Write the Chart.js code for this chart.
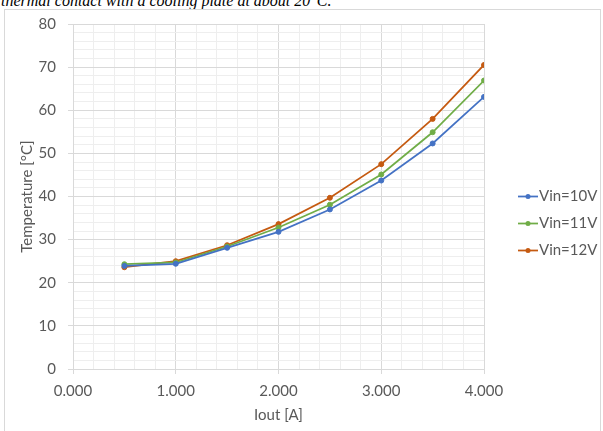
<!DOCTYPE html>
<html>
<head>
<meta charset="utf-8">
<script src="https://cdn.jsdelivr.net/npm/chart.js@4.4.1/dist/chart.umd.min.js"></script>
<style>
  html, body { margin: 0; padding: 0; background: #ffffff; overflow: hidden; }
  #wrap { position: relative; width: 603px; height: 431px; }
  #caption {
    position: absolute; left: 1px; top: -7px; margin: 0;
    font-family: "Liberation Serif", "DejaVu Serif", serif;
    font-style: italic; font-size: 16px; line-height: 16px;
    color: #000000; white-space: nowrap;
  }
  #frame {
    position: absolute; left: 4px; top: 9px; width: 597px; height: 430px;
    border: 1px solid #d9d9d9; box-sizing: border-box;
  }
  #chart { position: absolute; left: 0; top: 0; }
</style>
</head>
<body>
<div id="wrap">
  <p id="caption">thermal contact with a cooling plate at about 20°C.</p>
  <div id="frame"></div>
  <canvas id="chart" width="603" height="431"></canvas>
</div>
<script>
// Output current [A]
const iout = [0.5, 1.0, 1.5, 2.0, 2.5, 3.0, 3.5, 4.0];

// Measured temperature [°C] per input voltage
const tempVin10 = [23.9, 24.4, 28.1, 31.8, 37.0, 43.7, 52.3, 63.1];
const tempVin11 = [24.3, 24.7, 28.4, 32.8, 38.1, 45.1, 54.9, 66.9];
const tempVin12 = [23.6, 25.0, 28.7, 33.6, 39.7, 47.5, 58.0, 70.5];

const seriesNames = ["Vin=10V", "Vin=11V", "Vin=12V"];
const seriesColors = ["#4472C4", "#70AD47", "#C55A11"];

// Axis ranges and label steps
const xRange = [0, 4];
const yRange = [0, 80];
const xMajorStep = 1, xMinorStep = 0.2;
const yMajorStep = 10, yMinorStep = 2;

const labelFont = { family: "Lato, 'Open Sans', sans-serif", size: 15 };
const textGray = "#595959";

function toPoints(xs, ys) {
  return xs.map((x, i) => ({ x: x, y: ys[i] }));
}
function isMajor(v, step) {
  const r = v / step;
  return Math.abs(r - Math.round(r)) < 1e-6;
}

const datasets = [tempVin10, tempVin11, tempVin12].map((vals, i) => ({
  label: seriesNames[i],
  data: toPoints(iout, vals),
  borderColor: seriesColors[i],
  backgroundColor: seriesColors[i],
  pointBackgroundColor: seriesColors[i],
  pointBorderColor: seriesColors[i],
  borderWidth: 1.75,
  pointRadius: 2.5,
  pointBorderWidth: 1,
  tension: 0
}));

// Legend on the right: short line with a marker, then the series name
const sideLegend = {
  id: "sideLegend",
  afterDraw(chart) {
    const ctx = chart.ctx;
    const area = chart.chartArea;
    const x0 = area.right + 34;
    const gap = 27;
    const yMid = (area.top + area.bottom) / 2 + 27;
    const n = chart.data.datasets.length;
    ctx.save();
    chart.data.datasets.forEach((ds, i) => {
      const y = yMid + (i - (n - 1) / 2) * gap;
      ctx.strokeStyle = ds.borderColor;
      ctx.lineWidth = 1.75;
      ctx.beginPath();
      ctx.moveTo(x0, y);
      ctx.lineTo(x0 + 20, y);
      ctx.stroke();
      ctx.fillStyle = ds.borderColor;
      ctx.beginPath();
      ctx.arc(x0 + 10, y, 2.5, 0, Math.PI * 2);
      ctx.fill();
      ctx.fillStyle = textGray;
      ctx.font = labelFont.size + "px " + labelFont.family;
      ctx.textAlign = "left";
      ctx.textBaseline = "middle";
      ctx.fillText(ds.label, x0 + 21, y);
    });
    ctx.restore();
  }
};

new Chart(document.getElementById("chart"), {
  type: "line",
  data: { datasets: datasets },
  plugins: [sideLegend],
  options: {
    responsive: false,
    animation: false,
    layout: { padding: { left: 4, right: 119, top: 24, bottom: 0 } },
    plugins: { legend: { display: false }, tooltip: { enabled: false } },
    scales: {
      x: {
        type: "linear",
        min: xRange[0],
        max: xRange[1],
        afterFit(scale) { scale.height = 62; },
        ticks: {
          stepSize: xMinorStep,
          autoSkip: false,
          maxRotation: 0,
          padding: 8,
          color: textGray,
          font: labelFont,
          callback: (v) => isMajor(v, xMajorStep) ? Number(v).toFixed(3) : ""
        },
        grid: {
          color: (c) => isMajor(c.tick.value, xMajorStep) ? "#d9d9d9" : "#eeeeee",
          tickColor: (c) => isMajor(c.tick.value, xMajorStep) ? "#d9d9d9" : "rgba(0,0,0,0)",
          tickLength: 5,
          lineWidth: 1
        },
        border: { color: "#d9d9d9" },
        title: {
          display: true,
          text: "Iout [A]",
          color: textGray,
          font: labelFont,
          padding: { top: 0, bottom: 7 }
        }
      },
      y: {
        min: yRange[0],
        max: yRange[1],
        afterFit(scale) { scale.width = 69; },
        ticks: {
          stepSize: yMinorStep,
          maxTicksLimit: 100,
          autoSkip: false,
          padding: 12,
          color: textGray,
          font: labelFont,
          callback: (v) => isMajor(v, yMajorStep) ? String(v) : ""
        },
        grid: {
          color: (c) => isMajor(c.tick.value, yMajorStep) ? "#d9d9d9" : "#eeeeee",
          tickColor: (c) => isMajor(c.tick.value, yMajorStep) ? "#d9d9d9" : "rgba(0,0,0,0)",
          tickLength: 5,
          lineWidth: 1
        },
        border: { color: "#d9d9d9" },
        title: {
          display: true,
          text: "Temperature [°C]",
          color: textGray,
          font: labelFont,
          padding: { top: 14, bottom: 0 }
        }
      }
    }
  }
});
</script>
</body>
</html>
